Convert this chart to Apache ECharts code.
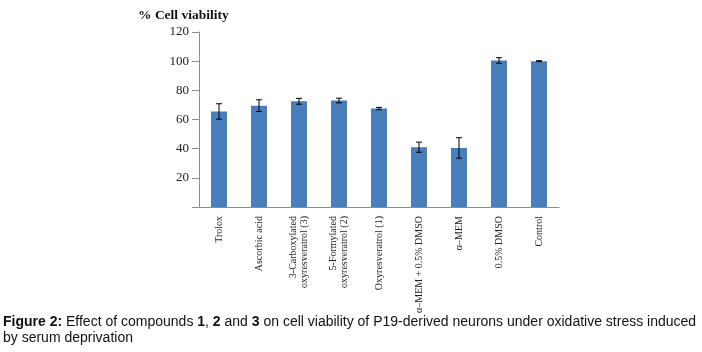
<!DOCTYPE html>
<html><head><meta charset="utf-8">
<script src="https://cdn.jsdelivr.net/npm/echarts@6/dist/echarts.min.js"></script>
<style>html,body{margin:0;padding:0;background:#fff;}#c{width:702px;height:352px;}</style>
</head><body><div id="c"></div>
<script>
var categories = ['Trolox', 'Ascorbic acid', '3-Carboxylated\noxyresveratrol (3)', '5-Formylated\noxyresveratrol (2)', 'Oxyresveratrol (1)', 'α–MEM + 0.5% DMSO', 'α–MEM', '0.5% DMSO', 'Control'];
var viability = [65.5, 69.5, 72.5, 73, 67.5, 41, 40.5, 100.5, 100];
var errors = [5.3, 4, 2, 1.6, 0.8, 3.5, 7, 1.9, 0.3];
var yTicks = [0, 20, 40, 60, 80, 100, 120];

var chart = echarts.init(document.getElementById('c'), null, {renderer: 'canvas'});
var errData = viability.map(function (v, i) { return [i, v - errors[i], v + errors[i]]; });
chart.setOption({
  animation: false,
  backgroundColor: '#fff',
  title: {
    text: '% Cell viability', left: 133, top: 4,
    textStyle: {fontFamily: 'Liberation Serif', fontWeight: 'bold', fontSize: 13.5, color: '#111'}
  },
  grid: {left: 199, right: 143, top: 32, bottom: 145},
  xAxis: {
    type: 'category', data: categories,
    axisLine: {lineStyle: {color: '#8c8c8c', width: 1}},
    axisTick: {alignWithLabel: false, length: 6, lineStyle: {color: '#8c8c8c'}},
    axisLabel: {rotate: 90, interval: 0, margin: 9, fontFamily: 'Liberation Serif', fontSize: 10, color: '#222', lineHeight: 11}
  },
  yAxis: {
    type: 'value', min: yTicks[0], max: yTicks[yTicks.length - 1], interval: 20,
    splitLine: {show: false},
    axisLine: {show: true, lineStyle: {color: '#8c8c8c', width: 1}},
    axisTick: {show: true, length: 7, lineStyle: {color: '#8c8c8c'}},
    axisLabel: {margin: 10, fontFamily: 'Liberation Serif', fontSize: 13, color: '#222',
      formatter: function (v) { return v === 0 ? '' : String(v); }}
  },
  series: [{
    type: 'bar', data: viability, barWidth: 16,
    itemStyle: {color: '#4a7ebb'}
  }, {
    type: 'custom', data: errData, z: 10,
    renderItem: function (params, api) {
      var x = api.value(0);
      var lo = api.coord([x, api.value(1)]);
      var hi = api.coord([x, api.value(2)]);
      var hw = 3;
      var st = {stroke: '#000', lineWidth: 1};
      return {type: 'group', children: [
        {type: 'line', shape: {x1: lo[0], y1: lo[1], x2: hi[0], y2: hi[1]}, style: st},
        {type: 'line', shape: {x1: lo[0] - hw, y1: lo[1], x2: lo[0] + hw, y2: lo[1]}, style: st},
        {type: 'line', shape: {x1: hi[0] - hw, y1: hi[1], x2: hi[0] + hw, y2: hi[1]}, style: st}
      ]};
    }
  }],
  graphic: [{
    type: 'text', left: 3, top: 315,
    style: {
      rich: {
        b: {fontFamily: 'Liberation Sans', fontWeight: 'bold', fontSize: 14, fill: '#111'},
        n: {fontFamily: 'Liberation Sans', fontSize: 14, fill: '#111'}
      },
      text: '{b|Figure 2:}{n| Effect of compounds }{b|1}{n|, }{b|2}{n| and }{b|3}{n| on cell viability of P19-derived neurons under oxidative stress induced}'
    }
  }, {
    type: 'text', left: 3, top: 331,
    style: {text: 'by serum deprivation', font: '14px "Liberation Sans"', fill: '#111'}
  }]
});
</script></body></html>
